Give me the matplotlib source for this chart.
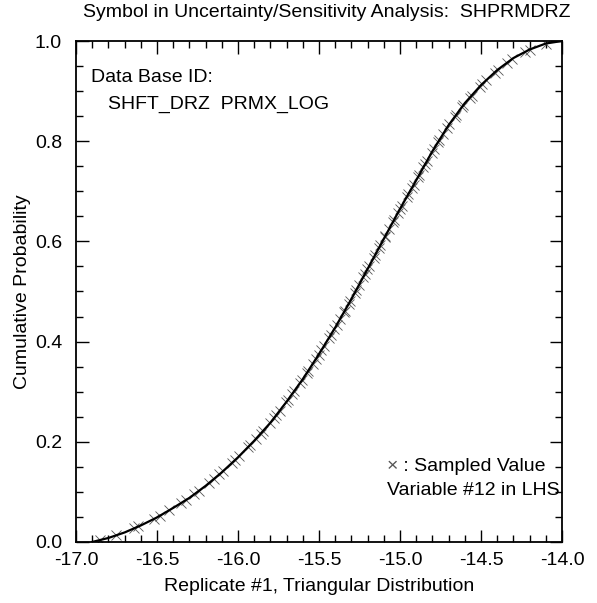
import numpy as np
import matplotlib
matplotlib.use('Agg')
import matplotlib.pyplot as plt
from matplotlib.ticker import MultipleLocator

plt.rcParams['font.family'] = ['Liberation Sans', 'DejaVu Sans']

# ---- data ----
# CDF of the sampled variable (x, cumulative probability)
curve_x = [-16.90, -16.80, -16.70, -16.60, -16.50, -16.40, -16.30, -16.20,
           -16.10, -16.00, -15.90, -15.80, -15.70, -15.60, -15.50, -15.40,
           -15.30, -15.20, -15.10, -15.00, -14.90, -14.80, -14.70, -14.60,
           -14.50, -14.40, -14.30, -14.20, -14.10, -14.00]
curve_p = [0.000, 0.008, 0.019, 0.033, 0.049, 0.068, 0.088, 0.112,
           0.139, 0.169, 0.202, 0.238, 0.280, 0.325, 0.375, 0.428,
           0.485, 0.545, 0.605, 0.665, 0.722, 0.780, 0.832, 0.876,
           0.912, 0.942, 0.966, 0.983, 0.995, 1.000]

# LHS sampled values (cumulative probability of each of the 100 samples)
sample_p = [
    0.004, 0.013, 0.027, 0.031, 0.046, 0.052, 0.063, 0.078, 0.084, 0.095,
    0.102, 0.117, 0.126, 0.135, 0.141, 0.158, 0.163, 0.172, 0.189, 0.194,
    0.205, 0.216, 0.221, 0.238, 0.247, 0.253, 0.262, 0.279, 0.284, 0.296,
    0.301, 0.318, 0.323, 0.337, 0.342, 0.355, 0.366, 0.374, 0.383, 0.391,
    0.408, 0.414, 0.425, 0.433, 0.446, 0.459, 0.462, 0.476, 0.481, 0.497,
    0.503, 0.512, 0.528, 0.535, 0.544, 0.551, 0.567, 0.573, 0.586, 0.592,
    0.608, 0.611, 0.624, 0.639, 0.643, 0.657, 0.665, 0.671, 0.688, 0.694,
    0.706, 0.713, 0.729, 0.732, 0.748, 0.755, 0.761, 0.777, 0.785, 0.798,
    0.802, 0.815, 0.826, 0.834, 0.849, 0.853, 0.868, 0.872, 0.887, 0.891,
    0.909, 0.914, 0.922, 0.937, 0.943, 0.956, 0.964, 0.978, 0.983, 0.995,
]

# samples sit on the CDF
sample_x = np.interp(sample_p, curve_p, curve_x)

FS = 14

fig = plt.figure(figsize=(5.97, 6.03), dpi=100)
ax = fig.add_axes([0.1273, 0.1012, 0.8141, 0.8308])

ax.plot(curve_x, curve_p, color='black', lw=1.6, zorder=3)
ax.plot(sample_x, sample_p, ls='none', marker='x', ms=7, mew=0.6,
        color='#555555', zorder=2)

ax.set_xlim(-17.0, -14.0)
ax.set_ylim(0.0, 1.0)
ax.xaxis.set_major_locator(MultipleLocator(0.5))
ax.xaxis.set_minor_locator(MultipleLocator(0.1))
ax.yaxis.set_major_locator(MultipleLocator(0.2))
ax.yaxis.set_minor_locator(MultipleLocator(0.05))
ax.xaxis.set_major_formatter(plt.FuncFormatter(lambda v, _: f'{v:.1f}'))
ax.yaxis.set_major_formatter(plt.FuncFormatter(lambda v, _: f'{v:.1f}'))
ax.tick_params(which='both', direction='in', top=True, right=True,
               labelsize=FS, width=1.0)
ax.tick_params(which='major', length=9)
ax.tick_params(which='minor', length=5)
ax.tick_params(axis='y', pad=10)
ax.tick_params(axis='x', pad=7)
for s in ax.spines.values():
    s.set_linewidth(1.3)

ax.set_xlabel('Replicate #1, Triangular Distribution', fontsize=FS, labelpad=7)
ax.set_ylabel('Cumulative Probability', fontsize=FS, labelpad=3)
fig.text(0.548, 0.979, 'Symbol in Uncertainty/Sensitivity Analysis:  SHPRMDRZ',
         ha='center', va='center', fontsize=FS)

ax.text(0.031, 0.928, 'Data Base ID:', transform=ax.transAxes,
        ha='left', va='center', fontsize=FS)
ax.text(0.065, 0.874, 'SHFT_DRZ  PRMX_LOG', transform=ax.transAxes,
        ha='left', va='center', fontsize=FS)
mk = ax.text(0.64, 0.15, '\u00d7', transform=ax.transAxes, color='#555555',
             ha='left', va='center', fontsize=FS)
ax.annotate(' : Sampled Value', xy=(1, 0.5), xycoords=mk,
            ha='left', va='center', fontsize=FS)
ax.text(0.64, 0.102, 'Variable #12 in LHS', transform=ax.transAxes,
        ha='left', va='center', fontsize=FS)

fig.savefig('out.png', dpi=100)
